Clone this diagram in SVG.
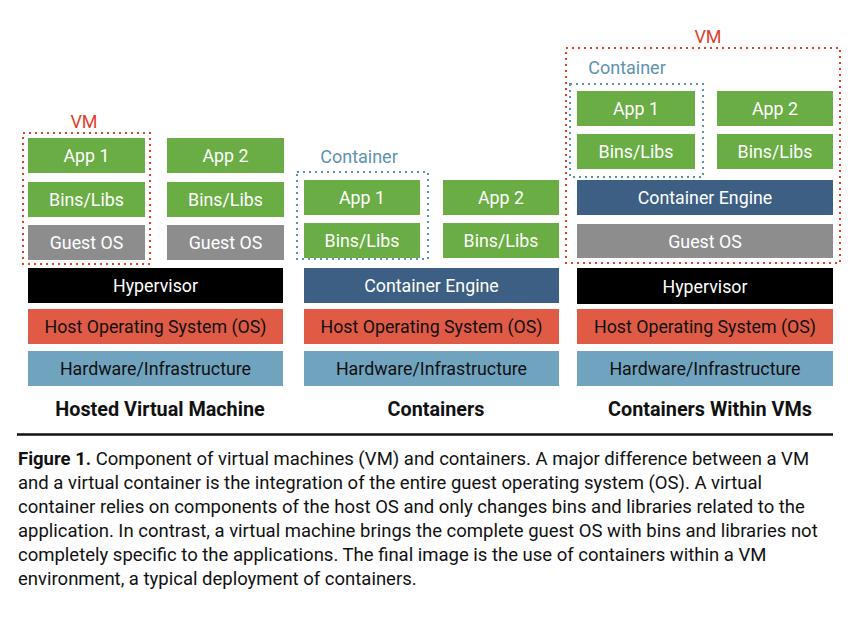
<svg xmlns="http://www.w3.org/2000/svg" width="859" height="621" viewBox="0 0 859 621">
<style>
.g{fill:#6aad44}.gy{fill:#8d8d8e}.bk{fill:#000}.rd{fill:#e05b45}.bl{fill:#6fa3be}.ce{fill:#3d5f83}
.t{font-family:Roboto,"Liberation Sans",sans-serif;font-size:17.8px;text-anchor:middle;dominant-baseline:central}
.w{fill:#fff}.d{fill:#111}
.h{font-family:Roboto,"Liberation Sans",sans-serif;font-size:19.8px;font-weight:bold;text-anchor:middle;fill:#111}
.vm{fill:none;stroke:#e0412d;stroke-width:2;stroke-dasharray:2 4}
.ct{fill:none;stroke:#5d93b0;stroke-width:2;stroke-dasharray:2 4}
.lvm{font-family:Roboto,"Liberation Sans",sans-serif;font-size:18px;fill:#e0412d;text-anchor:middle}
.lct{font-family:Roboto,"Liberation Sans",sans-serif;font-size:18px;fill:#5d93b0;text-anchor:middle}
.cap{font-family:Roboto,"Liberation Sans",sans-serif;font-size:18.5px;fill:#111}
</style>
<rect width="859" height="621" fill="#fff"/>

<!-- Column 1: Hosted Virtual Machine -->
<g id="col1-vm">
<rect class="vm" x="23" y="133" width="127" height="131"/>
<text class="lvm" x="84" y="128">VM</text>
</g>
<g id="c1-app1"><rect class="g" x="28" y="138" width="117" height="35"/><text class="t w" x="86.5" y="155.5">App 1</text></g>
<g id="c1-bins1"><rect class="g" x="28" y="182" width="117" height="35"/><text class="t w" x="86.5" y="199.5">Bins/Libs</text></g>
<g id="c1-guest1"><rect class="gy" x="28" y="225" width="117" height="35"/><text class="t w" x="86.5" y="242.5">Guest OS</text></g>
<g id="c1-app2"><rect class="g" x="167" y="138" width="117" height="35"/><text class="t w" x="225.5" y="155.5">App 2</text></g>
<g id="c1-bins2"><rect class="g" x="167" y="182" width="117" height="35"/><text class="t w" x="225.5" y="199.5">Bins/Libs</text></g>
<g id="c1-guest2"><rect class="gy" x="167" y="225" width="117" height="35"/><text class="t w" x="225.5" y="242.5">Guest OS</text></g>
<g id="c1-hyp"><rect class="bk" x="28" y="268" width="255" height="35"/><text class="t w" x="155.5" y="285.5">Hypervisor</text></g>
<g id="c1-host"><rect class="rd" x="28" y="309" width="255" height="35"/><text class="t d" x="155.5" y="326.5">Host Operating System (OS)</text></g>
<g id="c1-hw"><rect class="bl" x="28" y="351" width="255" height="35"/><text class="t d" x="155.5" y="368.5">Hardware/Infrastructure</text></g>
<text class="h" x="160" y="416">Hosted Virtual Machine</text>

<!-- Column 2: Containers -->
<g id="col2-container">
<rect class="ct" x="297" y="172" width="131" height="87"/>
<text class="lct" x="359" y="163">Container</text>
</g>
<g id="c2-app1"><rect class="g" x="304" y="180" width="116" height="35"/><text class="t w" x="362" y="197.5">App 1</text></g>
<g id="c2-bins1"><rect class="g" x="304" y="223" width="116" height="35"/><text class="t w" x="362" y="240.5">Bins/Libs</text></g>
<g id="c2-app2"><rect class="g" x="443" y="180" width="116" height="35"/><text class="t w" x="501" y="197.5">App 2</text></g>
<g id="c2-bins2"><rect class="g" x="443" y="223" width="116" height="35"/><text class="t w" x="501" y="240.5">Bins/Libs</text></g>
<g id="c2-engine"><rect class="ce" x="304" y="268" width="255" height="35"/><text class="t w" x="431.5" y="285.5">Container Engine</text></g>
<g id="c2-host"><rect class="rd" x="304" y="309" width="255" height="35"/><text class="t d" x="431.5" y="326.5">Host Operating System (OS)</text></g>
<g id="c2-hw"><rect class="bl" x="304" y="351" width="255" height="35"/><text class="t d" x="431.5" y="368.5">Hardware/Infrastructure</text></g>
<text class="h" x="436" y="416">Containers</text>

<!-- Column 3: Containers Within VMs -->
<g id="col3-vm">
<rect class="vm" x="566" y="48" width="274" height="215"/>
<text class="lvm" x="708" y="43">VM</text>
</g>
<g id="col3-container">
<rect class="ct" x="570" y="84" width="133" height="93"/>
<text class="lct" x="627" y="74">Container</text>
</g>
<g id="c3-app1"><rect class="g" x="577" y="91" width="118" height="35"/><text class="t w" x="636" y="108.5">App 1</text></g>
<g id="c3-bins1"><rect class="g" x="577" y="134" width="118" height="35"/><text class="t w" x="636" y="151.5">Bins/Libs</text></g>
<g id="c3-app2"><rect class="g" x="717" y="91" width="116" height="35"/><text class="t w" x="775" y="108.5">App 2</text></g>
<g id="c3-bins2"><rect class="g" x="717" y="134" width="116" height="35"/><text class="t w" x="775" y="151.5">Bins/Libs</text></g>
<g id="c3-engine"><rect class="ce" x="577" y="180" width="256" height="35"/><text class="t w" x="705" y="197.5">Container Engine</text></g>
<g id="c3-guest"><rect class="gy" x="577" y="224" width="256" height="34"/><text class="t w" x="705" y="241">Guest OS</text></g>
<g id="c3-hyp"><rect class="bk" x="577" y="268" width="256" height="36"/><text class="t w" x="705" y="286">Hypervisor</text></g>
<g id="c3-host"><rect class="rd" x="577" y="309" width="256" height="35"/><text class="t d" x="705" y="326.5">Host Operating System (OS)</text></g>
<g id="c3-hw"><rect class="bl" x="577" y="351" width="256" height="35"/><text class="t d" x="705" y="368.5">Hardware/Infrastructure</text></g>
<text class="h" x="710" y="416">Containers Within VMs</text>

<g id="connectors"></g>

<line x1="17" y1="434.5" x2="833" y2="434.5" stroke="#111" stroke-width="2.5"/>
<text class="cap" x="18" y="465"><tspan font-weight="bold">Figure 1.</tspan> Component of virtual machines (VM) and containers. A major difference between a VM</text>
<text class="cap" x="18" y="489">and a virtual container is the integration of the entire guest operating system (OS). A virtual</text>
<text class="cap" x="18" y="513">container relies on components of the host OS and only changes bins and libraries related to the</text>
<text class="cap" x="18" y="537">application. In contrast, a virtual machine brings the complete guest OS with bins and libraries not</text>
<text class="cap" x="18" y="561">completely specific to the applications. The final image is the use of containers within a VM</text>
<text class="cap" x="18" y="585">environment, a typical deployment of containers.</text>
</svg>
